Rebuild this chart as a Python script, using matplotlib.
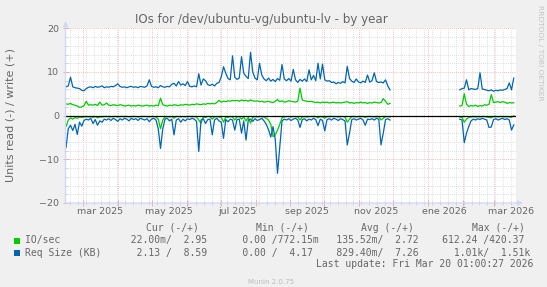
import numpy as np
import pandas as pd
import matplotlib
matplotlib.use('Agg')
import matplotlib.pyplot as plt
import matplotlib.dates as mdates
from matplotlib.patches import Rectangle

# one value every 2 days, no data between end of Nov 2025 and end of Jan 2026
start = '2025-02-13 12:00'
n_gap = 30

# IO/sec write (+) and read (-), Req Size write (+) and read (-)
io_write_a = [2.7, 2.6, 2.8, 2.5, 2.4, 2.2, 1.9, 2.0, 2.3, 3.3,
              2.4, 2.5, 2.4, 2.6, 2.3, 3.1, 2.4, 2.5, 2.9, 2.4,
              2.3, 2.5, 2.4, 2.3, 2.5, 2.4, 2.2, 2.3, 2.4, 2.2,
              2.3, 2.2, 2.4, 2.3, 2.2, 2.3, 2.4, 2.2, 2.3, 2.2,
              2.4, 2.3, 4.0, 2.5, 2.3, 2.2, 2.4, 2.3, 2.5, 2.4,
              2.3, 2.5, 2.4, 2.6, 2.5, 2.4, 2.6, 2.5, 2.7, 2.6,
              2.5, 2.7, 2.6, 2.8, 2.7, 2.8, 2.7, 3.0, 3.5, 3.1,
              3.3, 3.2, 3.4, 3.3, 3.5, 3.4, 3.5, 3.3, 3.6, 3.4,
              3.5, 3.3, 3.6, 3.4, 3.3, 3.4, 3.2, 3.3, 3.1, 3.2,
              3.3, 3.1, 3.0, 3.3, 3.7, 3.2, 3.4, 3.1, 3.2, 3.4,
              3.3, 3.2, 3.1, 3.3, 6.3, 3.6, 3.4, 3.3, 3.2, 3.3,
              3.1, 3.0, 3.1, 2.9, 3.1, 3.0, 3.1, 2.9, 3.0, 3.1,
              2.9, 3.0, 2.9, 3.0, 3.1, 3.2, 2.9, 3.0, 2.8, 3.0,
              2.9, 3.1, 2.9, 3.0, 2.8, 3.0, 2.9, 3.1, 3.0, 2.9,
              3.0, 3.9, 3.3, 2.6, 2.8]
io_write_b = [2.2, 2.3, 5.0, 2.6, 2.1, 2.3, 2.2, 2.4, 2.1, 2.3,
              2.2, 2.5, 2.4, 2.6, 4.8, 3.0, 3.1, 3.2, 3.0, 3.2,
              3.1, 2.8, 3.0, 2.9, 2.95]

io_read_a = [2.5, 1.0, 0.5, 0.8, 0.4, 0.6, 0.3, 0.4, 0.3, 0.2,
             0.3, 0.2, 0.4, 0.2, 0.5, 0.3, 0.3, 0.2, 0.2, 0.2,
             0.3, 0.2, 0.2, 0.3, 0.2, 0.2, 0.2, 0.2, 0.3, 0.2,
             0.2, 0.2, 0.3, 0.2, 0.2, 0.2, 0.2, 0.3, 0.2, 0.2,
             0.3, 0.8, 3.0, 1.0, 0.3, 0.2, 0.3, 0.2, 0.6, 0.2,
             0.2, 0.3, 0.2, 0.3, 0.2, 0.2, 0.2, 0.2, 0.3, 1.0,
             1.7, 0.3, 0.4, 0.2, 0.2, 0.8, 0.3, 0.2, 0.3, 0.4,
             1.5, 0.3, 0.4, 0.2, 0.3, 1.0, 0.3, 0.2, 0.8, 0.3,
             1.2, 0.4, 1.7, 0.4, 0.2, 0.3, 0.2, 0.2, 0.3, 0.6,
             1.0, 2.0, 4.8, 4.4, 3.3, 2.0, 0.5, 0.3, 0.2, 0.2,
             0.3, 0.2, 0.2, 0.3, 1.0, 0.3, 0.2, 0.3, 0.2, 0.2,
             0.2, 0.2, 0.5, 0.2, 0.3, 0.6, 0.2, 0.2, 0.2, 0.2,
             0.2, 0.3, 0.2, 0.2, 0.3, 1.5, 0.8, 0.2, 0.2, 0.3,
             0.2, 0.2, 0.2, 0.4, 0.2, 0.2, 0.2, 0.3, 0.2, 0.2,
             1.0, 0.6, 0.2, 0.2, 0.3]
io_read_b = [0.3, 0.4, 1.5, 0.8, 0.4, 0.3, 0.2, 0.3, 0.2, 0.3,
             0.2, 0.2, 0.3, 0.4, 0.5, 0.2, 0.2, 0.3, 0.2, 0.2,
             0.3, 0.2, 0.3, 0.4, 0.02]

req_write_a = [6.6, 6.8, 8.8, 6.6, 6.4, 6.3, 6.2, 5.8, 5.7, 6.2,
               6.5, 6.6, 6.4, 6.7, 6.5, 6.6, 6.8, 6.4, 6.6, 6.5,
               6.7, 6.6, 6.9, 7.3, 6.7, 6.5, 6.6, 6.4, 6.6, 6.7,
               6.5, 6.6, 6.4, 6.7, 6.6, 6.5, 6.8, 8.2, 6.7, 6.5,
               6.6, 6.4, 6.9, 6.6, 6.5, 6.7, 6.6, 7.2, 7.4, 6.8,
               7.8, 7.0, 7.3, 6.9, 7.8, 6.7, 6.6, 6.8, 6.6, 9.6,
               7.0, 8.4, 8.0, 7.1, 6.9, 7.2, 6.8, 7.4, 7.6, 8.9,
               11.2, 9.7, 8.5, 8.2, 13.7, 8.8, 8.3, 8.6, 13.5, 9.7,
               9.0, 8.5, 14.5, 10.0, 8.6, 8.2, 12.0, 9.3, 8.4, 8.0,
               8.6, 7.9, 8.3, 7.8, 8.5, 8.1, 11.7, 8.4, 8.0, 8.5,
               7.9, 10.6, 8.2, 7.6, 8.3, 7.9, 8.4, 7.8, 10.5, 8.2,
               9.2, 8.0, 12.0, 8.4, 11.8, 8.2, 7.9, 8.0, 7.6, 7.7,
               7.3, 7.6, 7.4, 7.8, 7.5, 11.3, 8.5, 7.9, 7.6, 8.4,
               7.7, 7.5, 7.9, 7.6, 9.3, 7.7, 8.0, 9.8, 7.8, 7.6,
               7.7, 7.5, 8.2, 6.8, 5.9]
req_write_b = [5.9, 6.2, 6.3, 8.2, 5.9, 6.2, 6.1, 6.0, 6.2, 9.8,
               6.1, 6.0, 5.8, 5.7, 5.9, 5.6, 5.8, 5.7, 5.9, 5.8,
               6.0, 6.2, 7.5, 5.9, 8.6]

req_read_a = [7.3, 3.0, 2.2, 3.4, 2.0, 4.3, 1.5, 2.4, 1.1, 0.8,
              1.0, 0.6, 1.8, 0.9, 2.2, 1.2, 1.5, 0.8, 1.0, 0.7,
              1.1, 0.6, 0.9, 1.3, 0.7, 1.0, 0.6, 0.8, 1.2, 0.6,
              0.9, 0.7, 1.1, 0.6, 0.8, 1.0, 0.7, 1.4, 0.8, 0.6,
              1.0, 3.0, 7.5, 3.0, 0.8, 0.6, 1.2, 0.8, 4.4, 1.0,
              0.7, 1.5, 0.8, 1.2, 0.7, 0.9, 0.6, 0.8, 1.3, 8.2,
              1.0, 0.7, 1.8, 0.9, 0.8, 4.4, 1.0, 0.6, 1.2, 1.5,
              5.2, 0.9, 1.4, 0.8, 1.0, 3.3, 0.9, 0.8, 4.0, 1.2,
              5.6, 1.0, 0.8, 1.3, 0.7, 1.1, 0.9, 0.6, 1.2, 2.0,
              3.2, 4.9, 2.5, 5.5, 13.2, 7.1, 1.2, 0.8, 1.0, 0.7,
              1.1, 0.8, 0.6, 1.0, 2.7, 0.9, 0.7, 1.2, 0.8, 1.0,
              0.6, 0.9, 2.3, 0.8, 1.1, 3.5, 0.9, 0.7, 1.0, 0.6,
              0.8, 1.1, 0.7, 0.9, 1.2, 6.7, 4.0, 0.9, 0.7, 1.0,
              0.8, 0.6, 1.0, 2.2, 0.8, 0.9, 0.7, 1.0, 0.6, 0.8,
              6.7, 4.0, 0.9, 0.7, 1.0]
req_read_b = [0.8, 1.0, 6.2, 4.0, 2.5, 1.2, 0.8, 1.0, 0.7, 0.9,
              0.6, 0.8, 1.0, 2.7, 2.6, 0.9, 0.7, 1.0, 0.8, 0.6,
              0.9, 0.7, 1.0, 3.3, 2.13]

month_labels = ['mar 2025', 'may 2025', 'jul 2025', 'sep 2025',
                'nov 2025', 'ene 2026', 'mar 2026']
month_starts = ['2025-03-01', '2025-05-01', '2025-07-01', '2025-09-01',
                '2025-11-01', '2026-01-01', '2026-03-01']

names = ['IO/sec', 'Req Size (KB)']
cur = [' 22.00m/  2.95 ', '  2.13 /  8.59 ']
mins = ['  0.00 /772.15m', '  0.00 /  4.17 ']
avgs = ['135.52m/  2.72 ', '829.40m/  7.26 ']
maxs = ['612.24 /420.37 ', '  1.01k/  1.51k']
colors = ['#00CC00', '#0066B3']


def join(a, b):
    return np.array(a + [np.nan] * n_gap + b)


io_write = join(io_write_a, io_write_b)
io_read = join(io_read_a, io_read_b)
req_write = join(req_write_a, req_write_b)
req_read = join(req_read_a, req_read_b)
dates = pd.date_range(start, periods=len(io_write), freq='2D')

W, H = 547, 287
fig = plt.figure(figsize=(W / 100, H / 100), dpi=100, facecolor='#F0F0F0')
ax = fig.add_axes([65.5 / W, 84 / H, 450 / W, 174.7 / H], facecolor='white')

txt = '#666666'
axis_c = '#CFD6F8'

ax.plot(dates, -io_read, color=colors[0], lw=0.9, zorder=3)
ax.plot(dates, io_write, color=colors[0], lw=0.9, zorder=3)
ax.plot(dates, -req_read, color=colors[1], lw=0.9, zorder=4)
ax.plot(dates, req_write, color=colors[1], lw=0.9, zorder=4)
ax.axhline(0, color='black', lw=0.9, zorder=5)

ax.set_xlim(pd.Timestamp('2025-02-13 01:00'), pd.Timestamp('2026-03-20 01:00'))
ax.set_ylim(-20, 20)

ax.xaxis.set_major_locator(mdates.MonthLocator())
ax.xaxis.set_minor_locator(mdates.WeekdayLocator(byweekday=mdates.MO))
ax.set_yticks([-20, -10, 0, 10, 20])
ax.set_yticks(np.arange(-20, 21, 2), minor=True)

ax.grid(which='minor', color='#d4d4d4', ls=(0, (1, 1.5)), lw=0.6, zorder=1)
ax.grid(which='major', color='#f0a8a8', ls=(0, (1, 1.5)), lw=0.6, zorder=1)
ax.set_axisbelow(True)

for s in ax.spines.values():
    s.set_visible(False)
ax.tick_params(which='major', direction='inout', length=4, width=0.6, color='#e8a0a0')
ax.tick_params(which='minor', direction='inout', length=3, width=0.6, color='#d0d0d0')
ax.tick_params(axis='y', which='major', labelsize=6.8, labelcolor=txt, pad=2.5)
ax.tick_params(axis='x', labelbottom=False)

# axis lines with arrows
ax.annotate('', xy=(0, 1.04), xytext=(0, 0), xycoords='axes fraction',
            arrowprops=dict(arrowstyle='-|>', color=axis_c, lw=0.9,
                            mutation_scale=7, shrinkA=0, shrinkB=0), zorder=6)
ax.annotate('', xy=(1.016, 0), xytext=(0, 0), xycoords='axes fraction',
            arrowprops=dict(arrowstyle='-|>', color=axis_c, lw=0.9,
                            mutation_scale=7, shrinkA=0, shrinkB=0), zorder=6)

# month labels centred in the labelled month
trans = matplotlib.transforms.blended_transform_factory(ax.transData, ax.transAxes)
for lab, m in zip(month_labels, month_starts):
    xm = pd.Timestamp(m) + pd.Timedelta(days=15)
    ax.text(mdates.date2num(xm), -0.047, lab, transform=trans, ha='center',
            va='center', fontsize=6.8, color=txt)


def ftext(x, y, s, **kw):
    fig.text(x / W, 1 - y / H, s, **kw)


ftext(261.7, 23, 'IOs for /dev/ubuntu-vg/ubuntu-lv - by year', ha='center',
      va='baseline', fontsize=8.6, color=txt)
ftext(10.5, 115, 'Units read (-) / write (+)', rotation=90, ha='center',
      va='center', fontsize=8, color=txt)
ftext(540, 5, 'RRDTOOL / TOBI OETIKER', rotation=270, ha='center', va='top',
      fontsize=5.4, color='#c4c4c4')

mono = dict(family='DejaVu Sans Mono', fontsize=7, color=txt, va='baseline')
for hx, h in zip([147, 256, 361.5, 473], ['Cur (-/+)', 'Min (-/+)', 'Avg (-/+)', 'Max (-/+)']):
    ftext(hx - 0.5, 231, h, ha='left', **mono)
for i in range(2):
    row = names[i].ljust(17) + '   '.join([cur[i], mins[i], avgs[i], maxs[i]])
    yb = 243.5 + 12 * i
    ftext(25, yb, row, ha='left', **mono)
    fig.patches.append(Rectangle(((13.5) / W, 1 - (yb) / H), 6 / W, 6 / H,
                                 transform=fig.transFigure, facecolor=colors[i],
                                 edgecolor='none'))
ftext(533, 267, 'Last update: Fri Mar 20 01:00:27 2026', ha='right', **mono)
ftext(270.7, 284, 'Munin 2.0.75', ha='center', va='baseline', fontsize=5,
      color='#bbbbbb')

fig.savefig('out.png', dpi=100, facecolor=fig.get_facecolor())
